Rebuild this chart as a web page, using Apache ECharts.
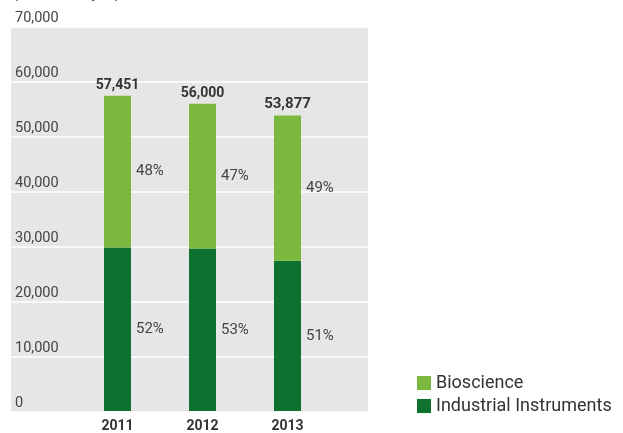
<!DOCTYPE html>
<html>
<head>
<meta charset="utf-8">
<script src="https://cdn.jsdelivr.net/npm/echarts@6/dist/echarts.min.js"></script>
<style>html,body{margin:0;padding:0;background:#fff}#c{width:623px;height:433px}</style>
</head>
<body>
<div id="c"></div>
<script>
const categories = ['2011', '2012', '2013'];
const industrial = [29800, 29600, 27400];
const bioscience = [27651, 26400, 26477];
const totals = [57451, 56000, 53877];
const bioPct = ['48%', '47%', '49%'];
const indPct = ['52%', '53%', '51%'];
const yTicks = { min: 0, max: 70000, interval: 10000 };

const FONT = 'Roboto, "Liberation Sans", sans-serif';
const chart = echarts.init(document.getElementById('c'), null, { renderer: 'canvas' });
chart.setOption({
  animation: false,
  title: {
    text: '(Millions of yen)', left: 13, top: -13, padding: 0,
    textStyle: { fontFamily: FONT, fontSize: 15, fontWeight: 'normal', color: '#444' }
  },
  legend: {
    data: ['Bioscience', 'Industrial Instruments'],
    orient: 'vertical', left: 417, top: 374, padding: 0,
    itemWidth: 14, itemHeight: 14, itemGap: 5,
    icon: 'rect',
    textStyle: { fontFamily: FONT, fontSize: 18, color: '#333' }
  },
  grid: [
    { left: 11, right: 255, top: 27, bottom: 21, show: true, backgroundColor: '#e6e6e6', borderWidth: 0 },
    { left: 75, right: 293, top: 27, bottom: 21 }
  ],
  xAxis: [
    { gridIndex: 0, type: 'category', data: categories, show: false },
    {
      gridIndex: 1, type: 'category', data: categories,
      axisLine: { show: false }, axisTick: { show: false },
      axisLabel: { fontFamily: FONT, fontSize: 14, fontWeight: 'bold', color: '#333', margin: 8 }
    }
  ],
  yAxis: [
    {
      gridIndex: 0, type: 'value', min: yTicks.min, max: yTicks.max, interval: yTicks.interval,
      axisLine: { show: false }, axisTick: { show: false },
      splitLine: { show: true, lineStyle: { color: '#ffffff', width: 1.5 } },
      axisLabel: {
        inside: true, margin: 4, verticalAlign: 'bottom', padding: [0, 0, 1, 0],
        fontFamily: FONT, fontSize: 14.5, color: '#444',
        formatter: v => v.toLocaleString('en-US')
      }
    },
    {
      gridIndex: 1, type: 'value', min: yTicks.min, max: yTicks.max, interval: yTicks.interval,
      show: false, splitLine: { show: false }
    }
  ],
  series: [
    {
      name: 'Industrial Instruments', type: 'bar', stack: 's', xAxisIndex: 1, yAxisIndex: 1,
      barWidth: 27, data: industrial, itemStyle: { color: '#0e7130' },
      label: { show: true, position: 'right', distance: 5, fontFamily: FONT, fontSize: 15, color: '#444',
        formatter: p => indPct[p.dataIndex] }
    },
    {
      name: 'Bioscience', type: 'bar', stack: 's', xAxisIndex: 1, yAxisIndex: 1,
      barWidth: 27, data: bioscience, itemStyle: { color: '#7ab93e' },
      label: { show: true, position: 'right', distance: 5, fontFamily: FONT, fontSize: 15, color: '#444',
        formatter: p => bioPct[p.dataIndex] }
    },
    {
      name: 'Total', type: 'line', xAxisIndex: 1, yAxisIndex: 1,
      data: totals.map((v, i) => i === 2 ? { value: v, label: { fontSize: 15 } } : v),
      symbol: 'circle', symbolSize: 1, showSymbol: true,
      itemStyle: { color: 'rgba(0,0,0,0)' }, lineStyle: { width: 0, opacity: 0 }, silent: true,
      label: { show: true, position: 'top', distance: 3, fontFamily: FONT, fontSize: 14, fontWeight: 'bold', color: '#333',
        formatter: p => Number(p.value).toLocaleString('en-US') }
    }
  ]
});
</script>
</body>
</html>
